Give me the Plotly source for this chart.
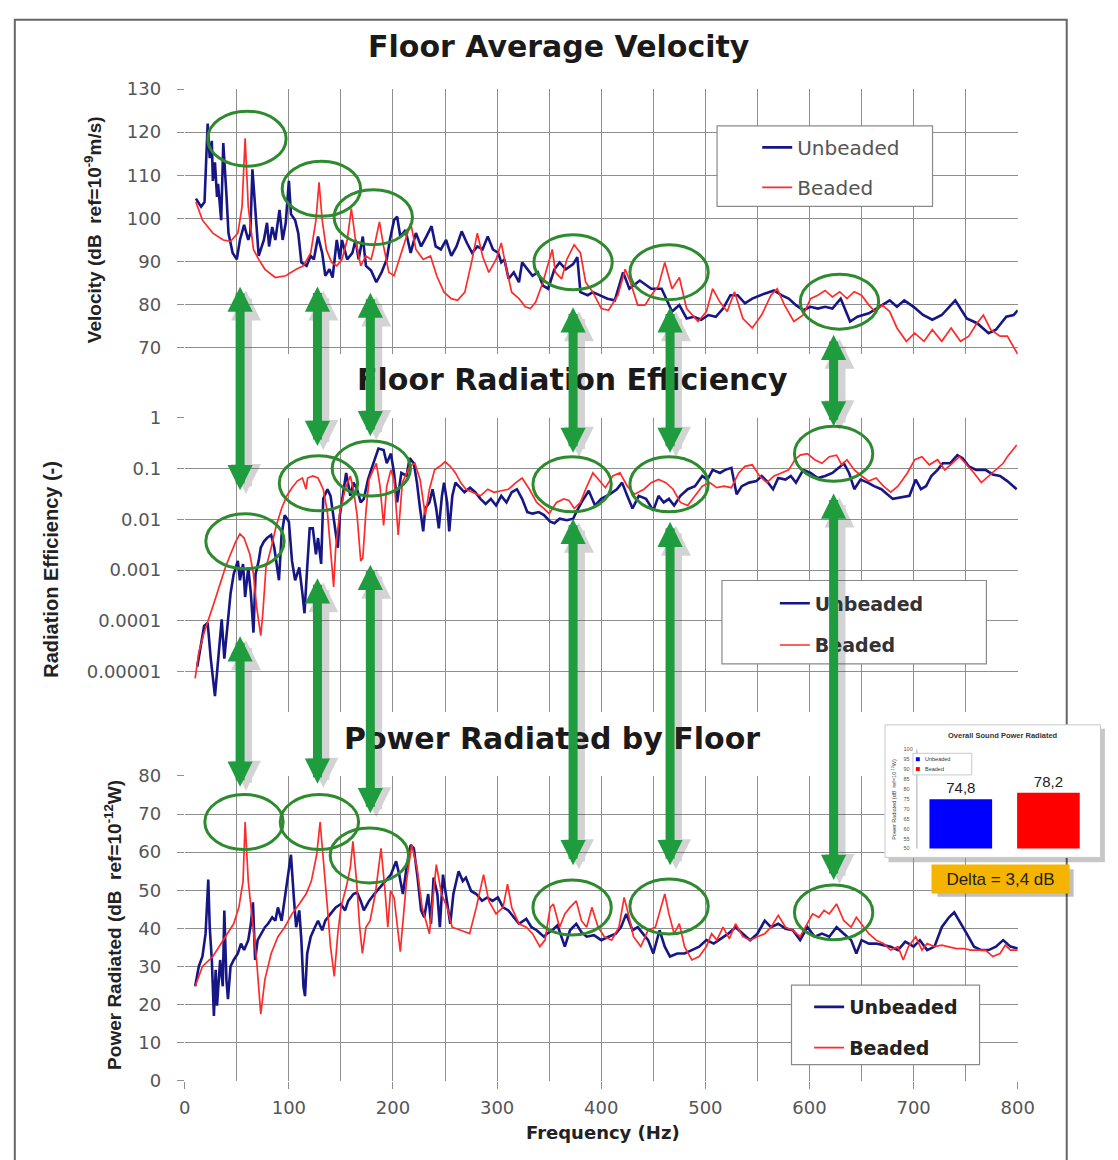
import plotly.graph_objects as go

W, H = 1118, 1160
def px(x): return x / W
def py(y): return 1 - y / H

# ---------------- data ----------------
series_names = ["Unbeaded", "Beaded"]

# Floor average velocity (dB ref 1e-9 m/s)
vel_unb_f = [10.7,15.7,19,22,24,26,27,29,31,32,35,37,40,42,46,50,53,57,61,63,65,68,71,76,79,81,84,87,91,94,97,100,102,106,109,112,117,121,124,128,132,135,139,142,146,149,151,156,161,164,167,171,174,179,184,189,194,197,201,204,207,212,217,222,227,232,237,241,246,251,256,261,266,271,276,281,286,291,296,301,304,307,311,316,321,324,329,334,339,344,349,355,360,366,373,377,380,387,392,399,406,413,421,427,437,448,458,468,475,482,489,496,503,510,517,524,531,538,545,556,566,573,580,587,594,601,608,615,622,630,639,646,657,667,677,684,691,700,709,718,727,740,751,761,772,779,789,796,800]
vel_unb = [104.6,102.7,103.8,122,114,118,108.7,113,105,108,99.6,117.5,105.7,96.6,92,90.5,95,98.5,95,96.6,111.4,101,91.3,95,99,93.5,98,95,102,95,99,108.7,101,99.6,96.6,89.8,89,91.3,90.5,95.8,92,86.7,88.2,86.3,95,90.5,95,90.5,92,95,90.5,95.8,89,87.9,85.2,87.5,90.5,95,99.6,100.4,95.8,97.3,92,96.6,93.5,95.8,98.2,93.5,92.8,95,91.3,93.5,97,94.3,92,93.5,92.8,95.8,92.8,92,89.8,90.5,86,87.5,85.2,89.8,88.2,86.7,87.5,84.4,83.7,88.2,89.8,88.2,89.4,91,82.9,82.2,82.9,82.2,81.4,81,87.5,83.7,85.6,83.7,83.7,78.4,79.9,76.8,77.2,76.5,77.6,77.2,79.1,82.2,82.2,80.3,81.4,82.5,83.3,82.2,81.4,79.9,78.7,79.5,79.1,79.5,79.1,81.4,76.1,77.2,78,79.5,81,79.5,81,79.5,77.6,76.5,77.6,81,76.8,75.7,73.4,74.2,77.2,77.6,78.7]

vel_bead_f = [10.7,17,27,37,44,51,55,58,61,66,71,77,87,97,107,114,121,126,129,132,136,141,146,151,156,160,164,169,174,179,182,187,191,196,201,207,212,217,222,229,236,242,249,256,262,269,276,281,286,292,299,304,309,314,321,327,332,337,344,350,353,356,362,367,374,380,385,392,400,407,416,423,428,435,442,448,455,461,468,475,482,493,501,507,514,521,528,536,545,554,563,569,576,585,594,601,608,615,622,629,636,643,650,657,663,670,677,684,693,701,710,718,727,736,745,753,760,767,774,783,790,800]
vel_bead = [103.8,99.6,96.6,95,94.7,96.6,102.7,118.6,102.7,92.8,90.5,88.2,86.3,86.7,88.2,89,92,99.6,108.4,99.6,92.8,89.8,89,90.5,95,102.3,95,89,91.3,90.5,93.5,99.2,93.5,87.5,86.7,91.3,95,98.9,92.8,90.5,91.3,86.7,82.9,81.4,81,82.9,90.5,96.6,91.3,87.5,90.5,94.3,88.2,82.9,81.4,79.5,79.1,80.6,85.2,90.5,92.8,87.5,86,90.5,93.9,92,85.2,82.9,79.1,78.7,82.2,88.2,85.2,79.9,79.9,82.2,84.4,89.8,83.7,86.3,79.1,76.1,78.4,83.7,80.6,78.4,83,76.8,74.6,77.6,82.2,83.7,79.9,76.1,77.6,81.4,82.2,83.3,81.8,83,81.4,83,82.2,79.9,78.4,79.9,78.4,74.6,71.5,73.4,71.5,74.2,71.5,74.6,71.5,72.7,75.4,77.6,74.2,72.7,72.7,68.5]

# Floor radiation efficiency (-)  (values given as exponents of 10)
rad_unb_f = [12,15,18.6,22,25,29,32,35.5,38,40.5,44,47,51,53,56,58,61,63.5,66,68,71,73,76,79,83,86,90.5,93,96,100,103,106,110,113,115,117.6,120,123,126,128,131,133,137,140,144,147,149,153,155,159,162,165.5,169,172,176,179,182,186,191,194,198,201,204,208,213,216,220,223,226,229,231,235,238,241.5,244,247,249,252,254,257,260,263.5,268.6,274,279,284,289,294,299,304,309,314,319,324,329,334,340,345,351,355,360,367,373,376,381,388,394,400,408,415,420,425,430,436,443,450,455,460,465,470,476,483,490,497,502,507,514,519,525,530,535,542,549,554,559,565,570,577,582,587,594,601,608,615,622,628,633,638,643,649,656,662,669,680,689,696,702,707,712,717,723,728,735,742,747,753,760,769,776,783,790,799]
rad_unb_exp = [-4.9,-4.5,-4.1,-4.04,-4.74,-5.48,-4.74,-3.97,-4.74,-4.23,-3.46,-3.08,-2.82,-3.2,-2.88,-3.53,-2.95,-3.46,-4.23,-3.08,-2.82,-2.56,-2.44,-2.37,-2.31,-2.56,-3.2,-2.31,-1.92,-2.05,-2.82,-3.2,-2.95,-3.46,-3.85,-2.95,-2.18,-2.18,-2.69,-2.37,-2.88,-1.6,-1.41,-1.54,-2.18,-2.56,-1.92,-1.35,-1.09,-1.54,-1.28,-1.41,-1.67,-1.6,-1.22,-1.03,-0.83,-0.61,-0.64,-0.9,-0.71,-1.09,-1.67,-1.09,-1.15,-0.8,-0.9,-1.28,-1.79,-2.24,-1.79,-1.67,-1.41,-1.79,-2.18,-1.54,-1.28,-1.67,-2.24,-1.54,-1.28,-1.35,-1.47,-1.38,-1.47,-1.6,-1.7,-1.6,-1.73,-1.54,-1.67,-1.47,-1.41,-1.6,-1.86,-1.89,-1.86,-1.92,-2.05,-2.08,-1.99,-2.02,-1.99,-1.86,-1.67,-1.44,-1.73,-1.6,-1.51,-1.41,-1.28,-1.54,-1.79,-1.54,-1.6,-1.83,-1.54,-1.67,-1.6,-1.73,-1.54,-1.41,-1.35,-1.15,-1.22,-1.03,-1.09,-1.03,-0.99,-1.51,-1.35,-1.28,-1.25,-1.15,-1.25,-1.41,-1.19,-1.22,-1.15,-1.28,-1.03,-1.09,-1.19,-1.15,-1.09,-0.99,-0.9,-1.09,-1.41,-1.22,-1.28,-1.35,-1.41,-1.6,-1.57,-1.54,-1.22,-1.41,-1.35,-1.15,-1.03,-0.9,-0.9,-0.74,-0.8,-0.96,-1.03,-1.03,-1.12,-1.15,-1.25,-1.41]

rad_bead_f = [10,13.5,18.6,24,29,34,39,44,49,53,57,62.5,66,69,73,75,78,83,88,93,98,103,108,113,116.5,118,123,128,133,137,140,143,145,149,154,159,162,165.5,169,171,174,177,181,184,187.5,191,194,198,201,205,209,213,216,221,226,231,235,240,245,250,255,260,265,270,277,284,291,297,304,311,318,324,331,338,345,350,357,364,369,374,380,385,392,397,404,411,418,425,432,441,448,455,462,469,476,483,490,497,504,511,518,525,532,538,545,552,559,566,573,580,586,591,598,605,612,619,626,631,636,643,650,657,664,671,678,685,694,701,708,715,723,730,737,744,751,758,765,772,779,786,790,799]
rad_bead_exp = [-5.13,-4.62,-4.23,-3.91,-3.59,-3.27,-2.95,-2.69,-2.44,-2.29,-2.37,-2.69,-3.08,-3.72,-4.29,-3.85,-2.95,-2.56,-2.12,-1.79,-1.54,-1.38,-1.25,-1.19,-1.41,-1.19,-1.15,-1.19,-1.41,-1.86,-2.56,-3.33,-2.56,-1.86,-1.41,-1.15,-1.41,-1.92,-2.82,-2.76,-1.86,-1.22,-1.03,-0.9,-1.35,-2.12,-1.35,-1.03,-1.22,-2.31,-1.28,-1.09,-0.96,-0.9,-1.22,-1.92,-1.41,-1.03,-0.96,-0.87,-0.96,-1.09,-1.28,-1.41,-1.47,-1.54,-1.41,-1.47,-1.44,-1.41,-1.28,-1.19,-1.41,-1.67,-1.79,-1.89,-1.67,-1.6,-1.63,-1.79,-1.67,-1.41,-1.09,-1.22,-1.38,-1.15,-1.09,-1.35,-1.51,-1.41,-1.28,-1.22,-1.28,-1.41,-1.67,-1.73,-1.54,-1.35,-1.28,-1.38,-1.35,-1.38,-1.09,-0.96,-0.93,-1.15,-1.28,-1.15,-1.09,-1.03,-0.83,-0.74,-0.71,-0.83,-0.9,-0.77,-0.74,-0.93,-0.83,-1.03,-1.15,-1.25,-1.19,-1.35,-1.47,-1.35,-1.09,-0.83,-0.77,-0.93,-0.83,-1.03,-0.9,-0.77,-0.93,-1.09,-1.28,-1.15,-1.03,-0.9,-0.77,-0.54]

# Power radiated by floor (dB ref 1e-12 W)
pow_unb_f = [10,13.5,17,20,22.6,24,26,28,29.7,31,34,36.5,38,40,41.5,44,47,51,54,57,61,63.5,65.5,67.6,70,73.6,77,80,84,87,89.5,93,96,99.6,102,105,107,110,112,114,115.5,117.6,121,125,128,132,135,140,145,150,154,157,162,165.5,169,172,177,182,187.5,192.6,198,203,206,209.5,213,217,220,223.6,227,230,233.8,236.5,239,242.6,245,248,252,255,258,263,267,270,275,280,285.5,290.5,295.6,300.7,305.7,310.8,316,321,328,333,338,345,348,353,358,362,365,370,376,381,386,393,400,407,414,419,424,430,435,440,445,450,456,461,466,473,480,487,494,501,508,515,522,529,536,543,550,557,563,570,577,584,591,598,605,612,619,626,633,640,645,650,657,664,671,678,685,692,700,706,713,720,727,734,739,744,751,758,765,772,779,786,793,800]
pow_unb = [24.8,30,32.6,38.6,52.8,40.3,31.7,17,29.1,19.7,31.7,24.8,44.7,26.6,21.4,30,31.7,33.4,36,34.3,36.9,41.2,46.8,31.7,36.9,38.6,40.3,41.2,42.9,42,45.5,42,48.1,54.1,59.3,47.2,40.3,44.7,36.9,24.8,22.2,33.4,37.8,40.3,42,39.5,42,43.8,45.5,46.4,44.7,47.2,49,49.4,47.2,44.7,47.2,49,50.7,52.4,54.1,57.6,54.1,49,55.9,61.9,61,53.3,44.7,42.9,49,41.2,53.3,49,40.3,54.1,47.2,41.2,49,55,52.4,53.3,49.8,49,47.2,48.1,47.2,48.1,45.5,44.7,42.9,41.2,42.5,40.3,39.5,37.8,38.6,39.5,40.8,37.8,35.2,39.5,41.2,39,37.8,38.2,36.9,37.8,38.6,40.3,43.8,39.5,40.3,38.6,36.9,33.4,39.5,35.2,32.6,33.4,33.4,34.3,35.2,36.9,36,37.3,38.6,40.3,38.6,36.9,38.6,42,40.3,41.2,39.9,39.5,36.9,40.3,37.8,38.6,37.8,40.3,38.6,36.9,33.4,36.9,36,36,35.6,35.2,34.3,36.5,35.2,36.9,34.3,35.2,40.3,42.9,44.2,42,38.6,35.2,34.3,34.3,35.2,36.9,35.2,34.7]

pow_bead_f = [10,17,27,37,47,52,56,58,61,65,69,73,77,83,89.5,96,103,110,116.5,121.6,126.7,130,133.4,137,140,143.6,147,150,155,159,161.5,165,168,170.6,174,178,183,188.5,192.6,195,197.6,201,207,213,218,223,228,235,241.6,246.6,252,256.8,265,273.6,280,287,292,299,305.7,310,314,321,328,334,341,346,351,354,360,365,370,376,381,386,391,397,403,410,417,422,426,431,438,445,452,457,461,465,470,475,480,487,494,501,506,511,517,523,529,536,543,550,557,563,570,577,584,591,598,603,609,614,619,626,633,640,645,650,657,664,671,678,685,690,695,702,708,713,720,727,734,741,748,755,762,769,776,783,788,793,800]
pow_bead = [24.8,30,32.6,36.9,41.2,45.5,52.4,67.9,52.4,42,31.7,17.5,26.6,33.4,37.8,40.3,43.8,46.4,49,52.4,59.3,67.9,57.6,45.5,35.2,27.4,38.6,45.5,50.7,55.9,62.8,52.4,40.3,33.4,40.3,42,49,61,49,40.3,49.8,48.1,33.9,52.4,61.9,55.9,45.5,38.6,56.7,49,45.5,40.3,39.5,38.6,45.5,54.1,47.2,43.8,45.5,51.6,45.5,41.2,40.3,38.6,35.2,36.9,45.5,46.4,40.3,43.8,45.5,47.2,42,40.3,45.5,40.3,37.8,36.9,40.3,48.1,43.8,37.8,35.2,39.5,40.3,45.5,49,43.8,38.6,41.2,35.2,31.7,32.6,35.2,38.6,36.9,40.3,37.3,41.2,37.8,36.9,37.8,38.6,40.3,43.4,40.3,39.5,37.8,41.2,43.8,42.9,44.7,43.8,46.4,42,40.3,42.9,41.2,38.6,36.9,36,34.3,35.2,31.7,35.2,37.8,34.3,36,35.2,35.6,35.2,34.7,34.7,34.3,34.3,34.3,32.6,33.4,35.6,34.3,34.3]

# Inset: overall sound power radiated (dB)
overall_power = [74.8, 78.2]

# axis tick labels
vel_ticks = [70, 80, 90, 100, 110, 120, 130]
rad_tick_exps = [-5, -4, -3, -2, -1, 0]
rad_tick_text = ["0.00001", "0.0001", "0.001", "0.01", "0.1", "1"]
pow_ticks = [0, 10, 20, 30, 40, 50, 60, 70, 80]
freq_ticks = [0, 100, 200, 300, 400, 500, 600, 700, 800]
inset_ticks = [50, 55, 60, 65, 70, 75, 80, 85, 90, 95, 100]

# ---------------- styles ----------------
BLUE = "#161685"
RED = "#ff2a2a"
GRID = "#8e8e8e"
GREEN_ARROW = "#1f9c3d"
GREEN_RING = "#2e8a2e"
TICKFONT = dict(family="DejaVu Sans", size=18, color="#555555")
TINY = 5.5

fig = go.Figure()

def add_pair(fu, vu, fb, vb, xa, ya, legend, width_b=2.6, width_r=1.7, tag=""):
    fig.add_trace(go.Scatter(x=fu, y=vu, mode="lines", name=series_names[0],
                             line=dict(color=BLUE, width=width_b), xaxis=xa, yaxis=ya,
                             legend=legend, legendgroup=tag + "u"))
    fig.add_trace(go.Scatter(x=fb, y=vb, mode="lines", name=series_names[1],
                             line=dict(color=RED, width=width_r), xaxis=xa, yaxis=ya,
                             legend=legend, legendgroup=tag + "b"))

add_pair(vel_unb_f, vel_unb, vel_bead_f, vel_bead, "x", "y", "legend", tag="v")
add_pair(rad_unb_f, [10 ** e for e in rad_unb_exp], rad_bead_f, [10 ** e for e in rad_bead_exp],
         "x2", "y2", "legend2", tag="r")
add_pair(pow_unb_f, pow_unb, pow_bead_f, pow_bead, "x3", "y3", "legend3", tag="p")

# inset bars
inset_colors = ["#0000ff", "#ff0000"]
for name, val, col in zip(series_names, overall_power, inset_colors):
    fig.add_trace(go.Bar(x=[name], y=[val - inset_ticks[0]], base=inset_ticks[0], width=0.715,
                         marker=dict(color=col, line=dict(width=0)),
                         text=[f"{val:.1f}".replace(".", ",")], textposition="outside",
                         textfont=dict(family="Liberation Sans", size=15, color="#222"),
                         cliponaxis=False, showlegend=False, xaxis="x4", yaxis="y4"))

X_DOM = [px(182.5), px(1033)]
xcommon = dict(range=[0, 800], domain=X_DOM, showgrid=True, gridcolor=GRID, gridwidth=1.4,
               zeroline=False, showline=False, tickvals=freq_ticks,
               minor=dict(dtick=50, showgrid=True, gridcolor=GRID, gridwidth=1.4))

fig.update_layout(
    width=W, height=H, autosize=False,
    margin=dict(l=0, r=0, t=0, b=0),
    paper_bgcolor="white", plot_bgcolor="white",
    barmode="overlay",
    xaxis=dict(**xcommon, anchor="y", showticklabels=False, ticks=""),
    xaxis2=dict(**xcommon, anchor="y2", showticklabels=False, ticks=""),
    xaxis3=dict(**xcommon, anchor="y3", showticklabels=True, ticks="outside", ticklen=7,
                tickcolor=GRID, tickfont=TICKFONT, ticklabelstandoff=4),
    yaxis=dict(domain=[py(349.6), py(79.5)], range=[68.5, 130], tickvals=vel_ticks,
               showgrid=True, gridcolor=GRID, gridwidth=1.4, zeroline=False,
               ticks="outside", ticklen=7, tickcolor=GRID, tickfont=TICKFONT,
               ticklabelstandoff=12, anchor="x"),
    yaxis2=dict(domain=[py(714.4), py(414)], type="log", range=[-5.8, 0],
                tickvals=[10 ** e for e in rad_tick_exps], ticktext=rad_tick_text,
                showgrid=True, gridcolor=GRID, gridwidth=1.4, zeroline=False,
                ticks="outside", ticklen=7, tickcolor=GRID, tickfont=TICKFONT,
                ticklabelstandoff=12, anchor="x2"),
    yaxis3=dict(domain=[py(1089.5), py(779)], range=[0, 80], tickvals=pow_ticks,
                showgrid=True, gridcolor=GRID, gridwidth=1.4, zeroline=False,
                ticks="outside", ticklen=7, tickcolor=GRID, tickfont=TICKFONT,
                ticklabelstandoff=12, anchor="x3"),
    xaxis4=dict(domain=[px(897), 1.0], type="category", range=[-0.87, 1.6],
                showgrid=False, zeroline=False, showticklabels=False, ticks="", anchor="y4"),
    yaxis4=dict(domain=[py(862), py(727)], range=[45.54, 112.38], tickvals=inset_ticks,
                showgrid=False, zeroline=False, ticklabelposition="inside",
                ticklabelstandoff=16, tickfont=dict(family="Liberation Sans", size=TINY, color="#555"),
                ticks="", anchor="x4"),
    legend=dict(x=px(767), y=py(119), xanchor="left", yanchor="top", bgcolor="rgba(0,0,0,0)",
                font=dict(family="DejaVu Sans", size=20, color="#555555"), tracegroupgap=11),
    legend2=dict(x=px(785), y=py(584), xanchor="left", yanchor="top", bgcolor="rgba(0,0,0,0)",
                 font=dict(family="DejaVu Sans", size=19, color="#333333", weight="bold"),
                 tracegroupgap=14),
    legend3=dict(x=px(820), y=py(995), xanchor="left", yanchor="top", bgcolor="rgba(0,0,0,0)",
                 font=dict(family="DejaVu Sans", size=19, color="#222222", weight="bold"),
                 tracegroupgap=13),
)

# ---------------- shapes ----------------
shapes = []
shapes.append(dict(type="rect", xref="paper", yref="paper", x0=px(9), x1=px(1083), y0=py(1200), y1=py(9),
                   line=dict(color="#666666", width=2), fillcolor="rgba(0,0,0,0)", layer="below"))
shapes.append(dict(type="rect", xref="paper", yref="paper", x0=px(901), x1=px(1122), y0=py(867), y1=py(731),
                   line=dict(width=0), fillcolor="rgba(0,0,0,0.22)", layer="below"))
shapes.append(dict(type="rect", xref="paper", yref="paper", x0=px(897.5), x1=px(1117.5), y0=py(862), y1=py(727),
                   line=dict(color="#c8c8c8", width=1), fillcolor="rgba(0,0,0,0)", layer="above"))
shapes.append(dict(type="line", xref="paper", yref="paper", x0=px(930), x1=px(930), y0=py(853), y1=py(752),
                   line=dict(color="#aaaaaa", width=1), layer="above"))
shapes.append(dict(type="rect", xref="paper", yref="paper", x0=px(926), x1=px(986), y0=py(778), y1=py(756),
                   line=dict(color="#bbbbbb", width=0.8), fillcolor="white", layer="above"))
for i, col in enumerate(inset_colors):
    yc = 762 + 10 * i
    shapes.append(dict(type="rect", xref="paper", yref="paper", x0=px(929), x1=px(933), y0=py(yc + 2), y1=py(yc - 2),
                       line=dict(width=0), fillcolor=col, layer="above"))
shapes.append(dict(type="rect", xref="paper", yref="paper", x0=px(951), x1=px(1090), y0=py(902), y1=py(874),
                   line=dict(width=0), fillcolor="rgba(0,0,0,0.25)", layer="above"))
for (x0, y0, x1, y1) in [(726, 117, 946, 199), (731, 580, 1001, 665), (802, 992, 994, 1073)]:
    shapes.append(dict(type="rect", xref="paper", yref="paper", x0=px(x0), x1=px(x1), y0=py(y1), y1=py(y0),
                       line=dict(color="#8a8a8a", width=1.2), fillcolor="white", layer="above"))
ring_centers = [(246, 130), (322, 181), (375, 210), (579, 256), (677, 266), (851, 296),
                (244, 540), (319, 481), (373, 466), (578, 482), (677, 482), (845, 451),
                (243, 826), (320, 826), (371, 860), (578, 913), (677, 912), (845, 918)]
RX, RY = 40, 28
for cx, cy in ring_centers:
    shapes.append(dict(type="circle", xref="paper", yref="paper", x0=px(cx - RX), x1=px(cx + RX),
                       y0=py(cy + RY), y1=py(cy - RY), line=dict(color=GREEN_RING, width=3),
                       fillcolor="rgba(0,0,0,0)", layer="above"))
fig.update_layout(shapes=shapes)

# ---------------- annotations ----------------
ann = []
def text_ann(text, x, y, font, xanchor="center", **kw):
    d = dict(text=text, x=px(x), y=py(y), xref="paper", yref="paper", showarrow=False,
             xanchor=xanchor, yanchor="middle", font=font)
    d.update(kw)
    return d

TITLE_FONT = dict(family="DejaVu Sans", size=30, color="#1a1a1a", weight="bold")
for text, x, y in [("Floor Average Velocity", 565, 36), ("Floor Radiation Efficiency", 578, 375),
                   ("Power Radiated by Floor", 557, 741)]:
    ann.append(text_ann(text, x, y, TITLE_FONT))
ann.append(text_ann("Frequency (Hz)", 610, 1142,
                    dict(family="DejaVu Sans", size=18, color="#222222", weight="bold")))
for text, x, y, s in [("Velocity (dB  ref=10<sup>-9</sup>m/s)", 89, 223, 19),
                      ("Radiation Efficiency (-)", 46, 569, 20),
                      ("Power Radiated (dB  ref=10<sup>-12</sup>W)", 109, 931, 19)]:
    ann.append(text_ann(text, x, y, dict(family="Liberation Sans", size=s, color="#222222", weight="bold"),
                        textangle=-90))
ann.append(text_ann("Overall Sound Power Radiated", 1018, 738,
                    dict(family="Liberation Sans", size=7.5, color="#333", weight="bold")))
ann.append(text_ann("Power Radiated (dB  ref=10<sup>-12</sup>W)", 907, 803,
                    dict(family="Liberation Sans", size=TINY, color="#444"), textangle=-90))
for i, name in enumerate(series_names):
    ann.append(text_ann(name, 936, 762 + 10 * i, dict(family="Liberation Sans", size=TINY, color="#333"),
                        xanchor="left"))
delta = overall_power[1] - overall_power[0]
ann.append(text_ann(f"Delta = {delta:.1f} dB".replace(".", ","), 1015.5, 884,
                    dict(family="Liberation Sans", size=17, color="#222222"),
                    bgcolor="#f5b400", width=135, height=26, borderpad=1))

arrow_x = [239, 318, 372, 579, 678, 845]
upper_top = [283, 282, 288, 303, 303, 330]
upper_bot = [488, 443, 433, 450, 450, 423]
lower_top = [638, 580, 567, 522, 525, 497]
lower_bot = [790, 787, 817, 870, 870, 885]

def dbl_arrow(x, ytop, ybot, color, width, size, dx=0, dy=0):
    return dict(x=px(x + dx), y=py(ybot + dy), xref="paper", yref="paper", text="",
                showarrow=True, ax=0, ay=-(ybot - ytop), axref="pixel", ayref="pixel",
                arrowhead=2, startarrowhead=2, arrowside="end+start", arrowsize=size,
                startarrowsize=size, arrowwidth=width, arrowcolor=color, standoff=0, startstandoff=0)

for segs in [(upper_top, upper_bot), (lower_top, lower_bot)]:
    for x, yt, yb in zip(arrow_x, segs[0], segs[1]):
        ann.append(dbl_arrow(x, yt, yb, "rgba(60,60,60,0.22)", 12, 0.5, dx=6, dy=4))
for segs in [(upper_top, upper_bot), (lower_top, lower_bot)]:
    for x, yt, yb in zip(arrow_x, segs[0], segs[1]):
        ann.append(dbl_arrow(x, yt, yb, GREEN_ARROW, 9, 0.56))

fig.update_layout(annotations=ann)

fig.write_html("out.html", config={"displayModeBar": False},
               post_script="document.body.style.margin='0px';"
                           "document.documentElement.style.overflow='hidden';"
                           "document.body.style.overflow='hidden';")
